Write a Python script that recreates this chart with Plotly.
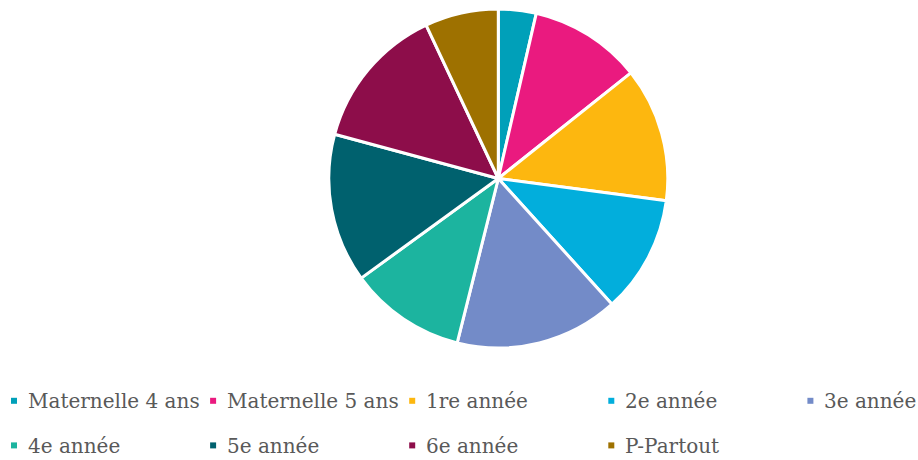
import plotly.graph_objects as go

categories = ["Maternelle 4 ans", "Maternelle 5 ans", "1re année", "2e année", "3e année",
              "4e année", "5e année", "6e année", "P-Partout"]
values = [3.6, 10.7, 12.8, 11.2, 15.6, 11.1, 14.2, 13.8, 7.0]
colors = ["#00A0B9", "#EA1A7F", "#FDB70F", "#02AEDC", "#738BC8",
          "#1CB49F", "#00616E", "#8D0D4A", "#9E7100"]

W, H = 918, 460
cx, cy, r = 498.3, 178.5, 169.5

fig = go.Figure(go.Pie(
    labels=categories,
    values=values,
    sort=False,
    direction="clockwise",
    rotation=0,
    textinfo="none",
    hoverinfo="label+percent",
    marker=dict(colors=colors, line=dict(color="white", width=3)),
    domain=dict(x=[(cx - r) / W, (cx + r) / W], y=[1 - (cy + r) / H, 1 - (cy - r) / H]),
    showlegend=False,
))

# Legend drawn as a key: small coloured square + label, 5 columns x 2 rows
col_x0, col_step = 14.0, 199.1
row_y0, row_step = 400.8, 44.6
key = 6.0
shapes, annotations = [], []
for i, (name, col) in enumerate(zip(categories, colors)):
    c, rw = i % 5, i // 5
    mx = col_x0 + c * col_step
    my = row_y0 + rw * row_step
    shapes.append(dict(
        type="rect", xref="paper", yref="paper",
        x0=(mx - key / 2) / W, x1=(mx + key / 2) / W,
        y0=1 - (my + key / 2) / H, y1=1 - (my - key / 2) / H,
        fillcolor=col, line=dict(width=0),
    ))
    annotations.append(dict(
        text=name, xref="paper", yref="paper",
        x=(mx + 12.0) / W, y=1 - (my + 0.5) / H,
        xanchor="left", yanchor="middle", showarrow=False,
        font=dict(family="DejaVu Serif", size=20, color="#595959"),
    ))

fig.update_layout(
    width=W, height=H,
    margin=dict(l=0, r=0, t=0, b=0, autoexpand=False),
    paper_bgcolor="white",
    plot_bgcolor="white",
    showlegend=False,
    shapes=shapes,
    annotations=annotations,
)

fig.write_html(
    "out.html",
    config={"displayModeBar": False},
    post_script="document.body.style.margin='0';document.body.style.overflow='hidden';",
)
